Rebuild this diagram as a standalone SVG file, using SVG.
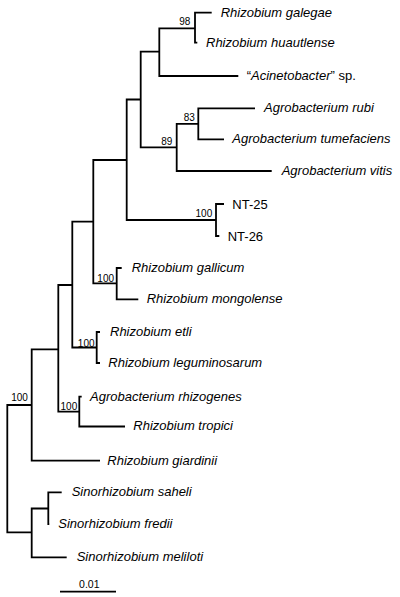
<svg xmlns="http://www.w3.org/2000/svg" width="400" height="597" viewBox="0 0 400 597">
<style>
.e{fill:none;stroke:#000;stroke-width:1.8;stroke-linejoin:miter;stroke-linecap:butt}
.t{font-family:"Liberation Sans",Arial,sans-serif;font-size:13px;font-style:italic;fill:#000}
.r{font-style:normal}
.b{font-family:"Liberation Sans",Arial,sans-serif;font-size:10px;fill:#000;text-anchor:middle}
.s{font-family:"Liberation Sans",Arial,sans-serif;font-size:10.5px;fill:#000;text-anchor:middle}
</style>
<rect width="400" height="597" fill="#fff"/>
<g id="connectors">
<path class="e" d="M31.7,405 H7.3 V532.3 H31.7"/>
<path class="e" d="M58.3,349.3 H31.7 V460.7 H100"/>
<path class="e" d="M72.3,285 H58.3 V411.7 H79.3"/>
<path class="e" d="M93.3,221.7 H72.3 V347.5 H96.7"/>
<path class="e" d="M126.7,160 H93.3 V283.3 H116.7"/>
<path class="e" d="M140.7,99.5 H126.7 V220 H216"/>
<path class="e" d="M159.3,51.7 H140.7 V147.3 H176.7"/>
<path class="e" d="M195,28.3 H159.3 V76 H238.3"/>
<path class="e" d="M211.7,12.7 H195 V42.7 H197.3"/>
<path class="e" d="M198.3,123.8 H176.7 V171 H271.7"/>
<path class="e" d="M255,108.3 H198.3 V139.3 H224"/>
<path class="e" d="M224,204 H216 V236 H219.3"/>
<path class="e" d="M121.7,268 H116.7 V299.3 H138.3"/>
<path class="e" d="M100,332 H96.7 V363 H100"/>
<path class="e" d="M81.7,396.7 H79.3 V426.5 H125"/>
<path class="e" d="M48.3,508.5 H31.7 V557.3 H66.7"/>
<path class="e" d="M61.7,492.3 H48.3 V524 H49.3"/>
</g>
<g id="bootstrap">
<g id="bs-98"><text class="b" x="184.7" y="24.5">98</text></g>
<g id="bs-83"><text class="b" x="189.2" y="120.5">83</text></g>
<g id="bs-89"><text class="b" x="166.7" y="144.7">89</text></g>
<g id="bs-nt"><text class="b" x="203.9" y="217.1">100</text></g>
<g id="bs-gal"><text class="b" x="105.7" y="281.7">100</text></g>
<g id="bs-etli"><text class="b" x="86.2" y="346.5">100</text></g>
<g id="bs-rhiz"><text class="b" x="68.9" y="409.8">100</text></g>
<g id="bs-rhizobium"><text class="b" x="19.5" y="401.1">100</text></g>
</g>
<g id="galegae"><text class="t" x="220.7" y="16.5">Rhizobium galegae</text></g>
<g id="huautlense"><text class="t" x="206" y="46.5">Rhizobium huautlense</text></g>
<g id="acinetobacter"><text class="t" x="246.7" y="79.8"><tspan class="r">“</tspan>Acinetobacter<tspan class="r">” sp.</tspan></text></g>
<g id="rubi"><text class="t" x="264" y="112.1">Agrobacterium rubi</text></g>
<g id="tumefaciens"><text class="t" x="232.3" y="143.1">Agrobacterium tumefaciens</text></g>
<g id="vitis"><text class="t" x="281.7" y="174.8">Agrobacterium vitis</text></g>
<g id="nt25"><text class="t r" x="232.3" y="208.5">NT-25</text></g>
<g id="nt26"><text class="t r" x="227.7" y="240.5">NT-26</text></g>
<g id="gallicum"><text class="t" x="131.7" y="271.8">Rhizobium gallicum</text></g>
<g id="mongolense"><text class="t" x="146.7" y="303.1">Rhizobium mongolense</text></g>
<g id="etli"><text class="t" x="110" y="335.8">Rhizobium etli</text></g>
<g id="leguminosarum"><text class="t" x="108.3" y="366.8">Rhizobium leguminosarum</text></g>
<g id="rhizogenes"><text class="t" x="90" y="400.5">Agrobacterium rhizogenes</text></g>
<g id="tropici"><text class="t" x="133.3" y="430.3">Rhizobium tropici</text></g>
<g id="giardinii"><text class="t" x="107.3" y="464.5">Rhizobium giardinii</text></g>
<g id="saheli"><text class="t" x="71.7" y="496.1">Sinorhizobium saheli</text></g>
<g id="fredii"><text class="t" x="58.3" y="527.8">Sinorhizobium fredii</text></g>
<g id="meliloti"><text class="t" x="76.7" y="561.1">Sinorhizobium meliloti</text></g>
<g id="scale">
<path class="e" d="M60,591.7 H116"/>
<text class="s" x="89.3" y="588.3">0.01</text>
</g>
</svg>
